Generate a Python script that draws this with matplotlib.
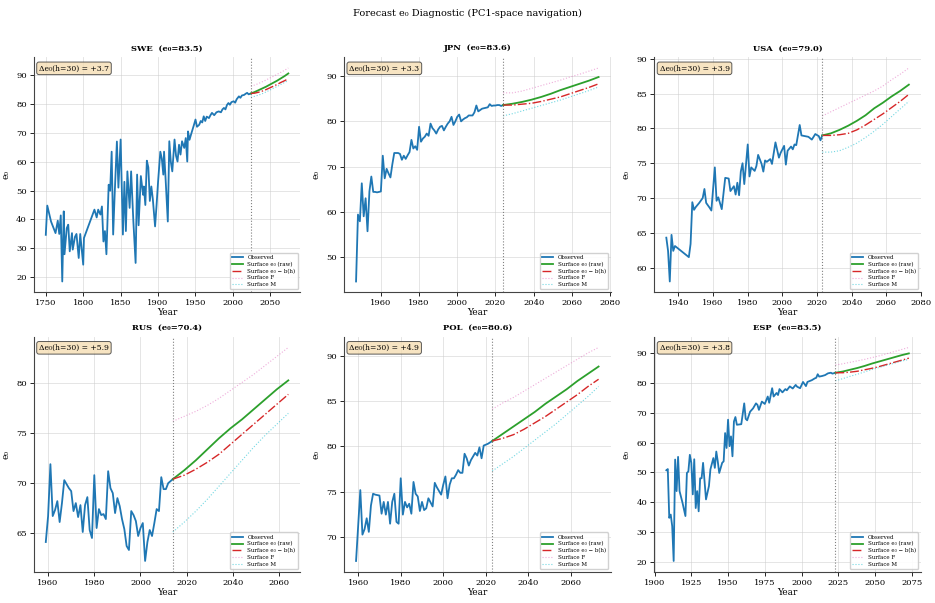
import matplotlib
matplotlib.use("Agg")
import matplotlib.pyplot as plt

plt.rcParams['font.family'] = ['DejaVu Serif']
plt.rcParams['axes.unicode_minus'] = False

# 预测步长 (h = 0..50, 每 5 年)
horizons = [0, 5, 10, 15, 20, 25, 30, 35, 40, 45, 50]

# ---- SWE ----
swe_years = [1750, 1752, 1757, 1763, 1766, 1768, 1770, 1772, 1774, 1775, 1778, 1780, 1782,
             1785, 1786, 1789, 1791, 1794, 1796, 1800, 1801, 1815, 1818, 1820, 1823, 1825,
             1827, 1829, 1831, 1834, 1836, 1838, 1840, 1842, 1845, 1847, 1850, 1853, 1855,
             1857, 1859, 1862, 1864, 1867, 1870, 1872, 1874, 1877, 1880, 1881, 1883, 1885,
             1887, 1889, 1891, 1893, 1896, 1898, 1900, 1903, 1905, 1907, 1908, 1910, 1913,
             1915, 1917, 1919, 1922, 1924, 1926, 1928, 1930, 1932, 1935, 1937, 1939, 1940,
             1942, 1944, 1946, 1948, 1950, 1952, 1955, 1957, 1959, 1961, 1963, 1965, 1968,
             1970, 1972, 1975, 1978, 1981, 1984, 1986, 1988, 1990, 1992, 1994, 1996, 1998,
             2001, 2003, 2005, 2008, 2010, 2012, 2015, 2017, 2019, 2021, 2024]
swe_e0 = [34.7, 44.8, 39.3, 35.3, 39.6, 35.0, 41.4, 18.6, 42.8, 28.0, 37.0, 38.2, 29.0,
          35.3, 29.6, 34.0, 35.0, 26.7, 35.0, 24.4, 33.6, 43.4, 40.7, 43.4, 41.7, 44.5,
          32.4, 36.0, 28.0, 52.0, 49.9, 63.4, 34.8, 48.5, 66.9, 51.0, 67.6, 34.8, 53.0,
          36.0, 56.6, 44.0, 56.6, 39.3, 25.0, 55.5, 38.0, 55.0, 48.5, 51.4, 45.0, 60.3,
          58.0, 46.4, 51.4, 47.0, 37.6, 45.0, 53.0, 63.4, 61.0, 55.5, 63.4, 54.3, 39.3,
          67.0, 60.0, 56.6, 67.6, 62.0, 60.0, 65.8, 62.4, 67.0, 64.7, 68.1, 60.0, 70.4,
          67.5, 69.3, 71.0, 72.7, 74.5, 72.0, 72.7, 74.0, 73.5, 75.6, 74.0, 75.5, 75.0,
          76.0, 76.8, 76.0, 77.0, 77.3, 77.0, 78.0, 78.5, 78.0, 79.5, 80.2, 79.6, 80.5,
          80.8, 80.3, 81.5, 82.5, 82.0, 82.8, 83.0, 83.4, 83.7, 83.2, 83.5]
swe_raw = [83.5, 84.0, 84.6, 85.2, 85.8, 86.5, 87.2, 87.9, 88.7, 89.5, 90.4]
swe_adj = [83.5, 83.6, 83.9, 84.3, 84.8, 85.4, 86.0, 86.6, 87.3, 87.9, 88.6]
swe_f = [86.0, 86.4, 86.9, 87.5, 88.1, 88.8, 89.4, 90.1, 90.8, 91.5, 92.3]
swe_m = [82.2, 82.5, 82.9, 83.4, 84.0, 84.6, 85.3, 85.9, 86.6, 87.3, 88.0]

# ---- JPN ----
jpn_years = list(range(1947, 2025))
jpn_e0 = [44.6, 59.4, 57.9, 66.3, 59.0, 63.0, 55.7, 64.5, 67.8, 64.4, 64.4, 64.3, 64.4,
          64.5, 72.4, 67.4, 69.5, 68.5, 67.6, 70.5, 73.0, 73.0, 73.0, 72.8, 71.5, 72.4,
          71.7, 72.5, 73.2, 75.9, 74.0, 74.5, 73.7, 78.8, 75.5, 76.2, 76.6, 77.3, 76.8,
          79.5, 78.5, 78.0, 77.3, 78.2, 78.8, 79.0, 78.0, 78.8, 79.5, 80.0, 81.0, 79.2,
          80.0, 81.0, 81.5, 80.0, 80.4, 80.7, 80.9, 81.3, 81.3, 81.3, 82.0, 83.5, 82.2,
          82.5, 82.8, 82.9, 83.0, 83.1, 83.8, 83.4, 83.5, 83.5, 83.6, 83.6, 83.4, 83.6]
jpn_raw = [83.6, 83.9, 84.3, 84.8, 85.4, 86.1, 86.9, 87.6, 88.3, 89.0, 89.8]
jpn_adj = [83.6, 83.6, 83.8, 84.0, 84.4, 84.9, 85.4, 86.1, 86.8, 87.5, 88.3]
jpn_f = [86.3, 86.3, 86.7, 87.3, 87.9, 88.5, 89.1, 89.8, 90.4, 91.1, 91.8]
jpn_m = [81.2, 81.7, 82.3, 82.9, 83.5, 84.1, 84.7, 85.4, 86.1, 86.8, 87.6]

# ---- USA ----
usa_years = [1933, 1934, 1935, 1936, 1937, 1938, 1946, 1947, 1948, 1949, 1950, 1952, 1954,
             1955, 1956, 1958, 1959, 1961, 1962, 1963, 1965, 1967, 1969, 1970, 1972, 1973,
             1974, 1975, 1976, 1977, 1978, 1980, 1981, 1982, 1984, 1985, 1986, 1988, 1989,
             1990, 1991, 1993, 1994, 1996, 1998, 1999, 2001, 2002, 2003, 2005, 2006, 2007,
             2008, 2010, 2011, 2013, 2015, 2017, 2019, 2021, 2022, 2023]
usa_e0 = [64.3, 62.4, 58.0, 64.7, 62.4, 63.1, 61.5, 63.4, 69.4, 68.3, 68.7, 69.3, 70.0,
          71.3, 69.3, 68.6, 68.2, 74.4, 69.6, 70.1, 68.4, 72.9, 72.8, 71.0, 71.7, 70.5,
          72.2, 70.4, 73.8, 75.0, 72.0, 77.7, 73.1, 74.4, 73.9, 74.6, 76.2, 74.9, 73.8,
          75.4, 75.2, 75.6, 74.9, 78.0, 75.8, 76.5, 77.5, 74.8, 76.8, 77.4, 77.0, 77.7,
          77.6, 80.5, 79.0, 78.9, 78.8, 78.4, 79.2, 78.9, 78.3, 79.0]
usa_raw = [79.0, 79.3, 79.8, 80.4, 81.1, 81.9, 82.9, 83.7, 84.6, 85.4, 86.3]
usa_adj = [79.0, 79.0, 79.1, 79.3, 79.8, 80.5, 81.3, 82.1, 83.0, 83.9, 84.9]
usa_f = [81.8, 82.4, 83.0, 83.6, 84.2, 84.8, 85.4, 86.1, 87.0, 87.8, 88.7]
usa_m = [76.6, 76.6, 76.8, 77.3, 77.9, 78.7, 79.6, 80.6, 81.7, 82.8, 83.9]

# ---- RUS ----
rus_years = list(range(1959, 2015))
rus_e0 = [64.1, 66.7, 71.9, 66.7, 67.3, 68.2, 66.1, 68.0, 70.3, 69.9, 69.5, 69.2, 67.2,
          68.0, 66.6, 67.8, 65.1, 67.8, 68.6, 65.3, 64.5, 70.8, 65.5, 67.4, 66.8, 66.9,
          66.4, 71.2, 69.5, 69.0, 67.0, 68.5, 67.7, 66.4, 65.4, 63.7, 63.3, 67.2, 66.8,
          66.2, 64.7, 65.5, 66.0, 62.2, 64.1, 65.3, 64.7, 66.0, 67.4, 67.2, 70.6, 69.4,
          69.4, 70.0, 70.2, 70.4]
rus_raw = [70.4, 71.3, 72.3, 73.4, 74.5, 75.5, 76.4, 77.4, 78.4, 79.4, 80.3]
rus_adj = [70.4, 70.8, 71.4, 72.1, 72.9, 73.9, 74.9, 75.9, 76.9, 77.9, 78.9]
rus_f = [76.2, 76.7, 77.2, 77.8, 78.5, 79.3, 80.1, 80.9, 81.8, 82.7, 83.6]
rus_m = [65.1, 66.1, 67.2, 68.4, 69.7, 71.0, 72.3, 73.6, 74.8, 75.9, 77.0]

# ---- POL ----
pol_years = [1959, 1961, 1962, 1963, 1964, 1965, 1966, 1967, 1968, 1970, 1971, 1972, 1973,
             1974, 1975, 1976, 1977, 1978, 1979, 1980, 1981, 1982, 1983, 1984, 1985, 1986,
             1987, 1988, 1989, 1990, 1991, 1992, 1993, 1995, 1996, 1997, 1999, 2000, 2001,
             2002, 2003, 2004, 2005, 2006, 2007, 2008, 2009, 2010, 2011, 2012, 2013, 2014,
             2015, 2016, 2017, 2018, 2019, 2021, 2023]
pol_e0 = [67.4, 75.2, 70.3, 70.9, 72.1, 70.6, 73.5, 74.8, 74.7, 74.6, 72.6, 73.9, 72.5,
          73.9, 71.5, 73.9, 74.8, 71.7, 71.5, 76.5, 72.5, 73.9, 73.3, 73.7, 72.6, 76.1,
          74.8, 74.5, 72.9, 73.9, 73.0, 73.2, 74.3, 73.4, 76.0, 75.5, 74.7, 75.8, 76.7,
          74.3, 75.8, 76.5, 76.5, 76.9, 77.4, 77.1, 77.1, 79.2, 78.7, 77.9, 78.5, 78.9,
          79.3, 79.0, 79.9, 78.7, 80.1, 80.3, 80.6]
pol_raw = [80.6, 81.4, 82.2, 83.0, 83.8, 84.7, 85.5, 86.3, 87.2, 88.0, 88.8]
pol_adj = [80.6, 80.9, 81.3, 81.9, 82.6, 83.3, 84.1, 84.9, 85.7, 86.6, 87.4]
pol_f = [84.1, 84.8, 85.4, 86.1, 86.8, 87.5, 88.2, 88.9, 89.6, 90.3, 90.9]
pol_m = [77.3, 78.1, 78.9, 79.8, 80.7, 81.6, 82.5, 83.5, 84.5, 85.5, 86.6]

# ---- ESP ----
esp_years = [1908, 1909, 1910, 1911, 1912, 1913, 1914, 1915, 1916, 1917, 1919, 1921, 1922,
             1923, 1924, 1925, 1926, 1927, 1928, 1929, 1930, 1931, 1932, 1933, 1935, 1937,
             1938, 1940, 1941, 1942, 1943, 1944, 1946, 1947, 1948, 1949, 1950, 1951, 1952,
             1953, 1954, 1955, 1956, 1959, 1961, 1962, 1963, 1965, 1967, 1969, 1970, 1971,
             1973, 1975, 1977, 1978, 1980, 1981, 1983, 1984, 1985, 1987, 1989, 1990, 1992,
             1994, 1996, 1997, 1999, 2001, 2003, 2004, 2006, 2007, 2009, 2010, 2011, 2012,
             2014, 2016, 2018, 2020, 2021, 2023]
esp_e0 = [50.7, 51.1, 34.7, 35.8, 31.9, 20.2, 54.3, 43.7, 55.2, 43.7, 39.8, 35.3, 49.8,
          50.3, 55.9, 53.2, 42.6, 54.4, 38.0, 43.7, 36.9, 48.0, 48.0, 53.2, 40.9, 45.4,
          51.0, 54.8, 51.5, 57.0, 53.7, 49.8, 53.2, 53.7, 63.2, 58.2, 67.7, 58.8, 62.1,
          55.4, 67.1, 68.6, 66.0, 66.2, 73.2, 68.0, 67.5, 70.4, 71.5, 73.2, 72.7, 71.0,
          73.8, 73.0, 75.5, 73.4, 78.3, 75.5, 76.7, 76.0, 78.0, 76.9, 78.0, 77.6, 78.9,
          78.2, 79.4, 78.8, 78.3, 80.4, 79.0, 80.4, 80.8, 81.0, 81.6, 81.8, 83.0, 82.2,
          82.4, 82.7, 83.3, 83.5, 83.2, 83.5]
esp_raw = [83.5, 83.9, 84.5, 85.1, 85.8, 86.6, 87.3, 88.0, 88.7, 89.4, 90.0]
esp_adj = [83.5, 83.5, 83.7, 84.0, 84.5, 85.0, 85.6, 86.3, 87.0, 87.7, 88.4]
esp_f = [86.1, 86.5, 87.0, 87.5, 88.0, 88.6, 89.2, 89.9, 90.6, 91.3, 92.0]
esp_m = [80.8, 81.5, 82.3, 83.0, 83.8, 84.6, 85.3, 86.0, 86.7, 87.4, 88.0]

countries = ['SWE', 'JPN', 'USA', 'RUS', 'POL', 'ESP']
deltas = [3.7, 3.3, 3.9, 5.9, 4.9, 3.8]
panels = {
    'SWE': (swe_years, swe_e0, swe_raw, swe_adj, swe_f, swe_m),
    'JPN': (jpn_years, jpn_e0, jpn_raw, jpn_adj, jpn_f, jpn_m),
    'USA': (usa_years, usa_e0, usa_raw, usa_adj, usa_f, usa_m),
    'RUS': (rus_years, rus_e0, rus_raw, rus_adj, rus_f, rus_m),
    'POL': (pol_years, pol_e0, pol_raw, pol_adj, pol_f, pol_m),
    'ESP': (esp_years, esp_e0, esp_raw, esp_adj, esp_f, esp_m),
}

fig, axes = plt.subplots(2, 3, figsize=(9.35, 6.03), dpi=100)
fig.subplots_adjust(left=0.036, right=0.985, bottom=0.052, top=0.905,
                    wspace=0.163, hspace=0.19)

for ax, code, d in zip(axes.flat, countries, deltas):
    years, e0, raw, adj, f, m = panels[code]
    last = years[-1]
    fyears = [last + h for h in horizons]

    ax.plot(years, e0, color='#1f77b4', lw=1.3, label='Observed')
    ax.plot(fyears, raw, color='#2ca02c', lw=1.3, label='Surface e₀ (raw)')
    ax.plot(fyears, adj, color='#d62728', lw=1.0, ls='-.', label='Surface e₀ − b(h)')
    ax.plot(fyears, f, color='#e377c2', lw=0.8, ls=':', alpha=0.6, label='Surface F')
    ax.plot(fyears, m, color='#17becf', lw=0.8, ls=':', alpha=0.6, label='Surface M')
    ax.axvline(last, color='grey', ls=':', lw=0.8)

    ax.set_title(f'{code}  (e₀={e0[-1]:.1f})', fontsize=6, fontweight='bold', pad=5)
    ax.set_ylabel('e₀', fontsize=6.5)
    ax.set_xlabel('Year', fontsize=6.5, labelpad=1)
    ax.tick_params(labelsize=6, length=3, width=0.6, pad=2)
    ax.grid(True, color='#cccccc', alpha=0.6, lw=0.6)
    for s in ('top', 'right'):
        ax.spines[s].set_visible(False)
    for s in ('left', 'bottom'):
        ax.spines[s].set_color('#444444')

    ax.text(0.02, 0.97, f'Δe₀(h=30) = +{d:.1f}', transform=ax.transAxes,
            fontsize=5.5, va='top', ha='left',
            bbox=dict(boxstyle='round,pad=0.3', facecolor='wheat', alpha=0.8,
                      edgecolor='#333333', lw=0.7))
    ax.legend(loc='lower right', fontsize=4, frameon=True, framealpha=0.9,
              handlelength=2.0, borderpad=0.4, labelspacing=0.3)

fig.suptitle('Forecast e₀ Diagnostic (PC1-space navigation)', fontsize=7, y=0.985)

fig.savefig('out.png', dpi=100)
